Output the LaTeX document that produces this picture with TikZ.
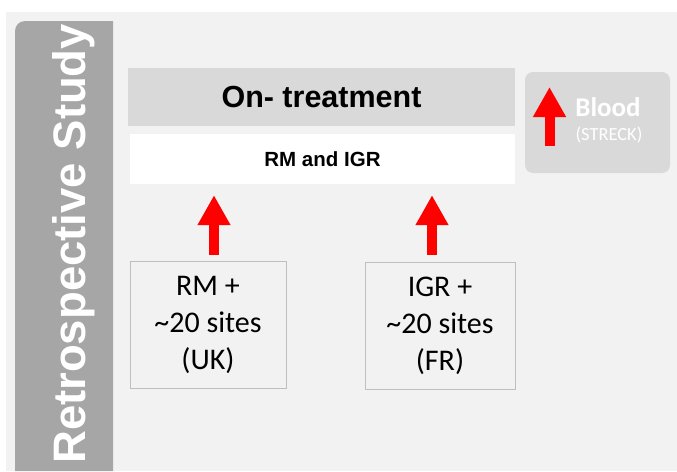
\documentclass[tikz,border=0pt]{standalone}
\usepackage{fontspec}
\usetikzlibrary{arrows.meta}
\newfontfamily\arialf{Liberation Sans}
\newfontfamily\calibrif{Carlito}
\definecolor{bggray}{HTML}{F2F2F2}
\definecolor{bargray}{HTML}{A6A6A6}
\definecolor{boxgray}{HTML}{D9D9D9}
\definecolor{edgegray}{HTML}{BFBFBF}
\tikzset{
  panel/.style={inner sep=0pt, align=center},
  sitebox/.style={panel, draw=edgegray, line width=1pt, fill=bggray,
    font=\calibrif\fontsize{30}{37}\selectfont},
  redarrow/.style={red, line width=10pt,
    -{Triangle[width=31pt,length=30pt]}}
}
\begin{document}
\begin{tikzpicture}[x=1pt,y=-1pt]
  \useasboundingbox (0,0) rectangle (677,471);
  \fill[white] (0,0) rectangle (677,471);
  \fill[bggray] (6,12) rectangle (677,471);
  % side bar
  \fill[bargray] (15,471) [rounded corners=10pt] -- (15,21) [sharp corners] -- (113,21) -- (113,471) -- cycle;
  \node[rotate=90, anchor=base west, inner sep=0pt, text=white,
    font=\arialf\bfseries\fontsize{45.5}{45}\selectfont] (study) at (85,464) {Retrospective Study};
  % top boxes
  \node[panel, fill=boxgray, minimum width=387pt, minimum height=58pt,
    font=\arialf\bfseries\fontsize{30.5}{30}\selectfont] (treat) at (321.5,97) {On- treatment};
  \node[panel, fill=white, minimum width=385pt, minimum height=50pt,
    font=\arialf\bfseries\fontsize{20.5}{20}\selectfont] (rmigr) at (322.5,159) {RM and IGR};
  % sites
  \node[sitebox, minimum width=156pt, minimum height=127pt] (rm) at (208,324.5) {RM +\\\textasciitilde20 sites\\(UK)};
  \node[sitebox, minimum width=150pt, minimum height=127pt] (igr) at (440,326) {IGR +\\\textasciitilde20 sites\\(FR)};
  \draw[redarrow, shorten <=6pt, shorten >=11pt] ([xshift=6pt]rm.north) -- ([xshift=6pt]rm.north |- rmigr.south);
  \draw[redarrow, shorten <=7pt, shorten >=11pt] ([xshift=-8pt]igr.north) -- ([xshift=-8pt]igr.north |- rmigr.south);
  % blood
  \node[panel, fill=boxgray, rounded corners=8pt, minimum width=145pt, minimum height=101pt] (blood) at (597.5,122.5) {};
  \draw[redarrow] (549.5,146) -- (549.5,87);
  \node[panel, text=white, font=\calibrif\bfseries\fontsize{27}{27}\selectfont, anchor=base] (bloodtxt) at (608,116) {Blood};
  \node[panel, text=white, font=\calibrif\fontsize{18.5}{18}\selectfont, anchor=base] (streck) at (609,140) {(STRECK)};
\end{tikzpicture}
\end{document}
